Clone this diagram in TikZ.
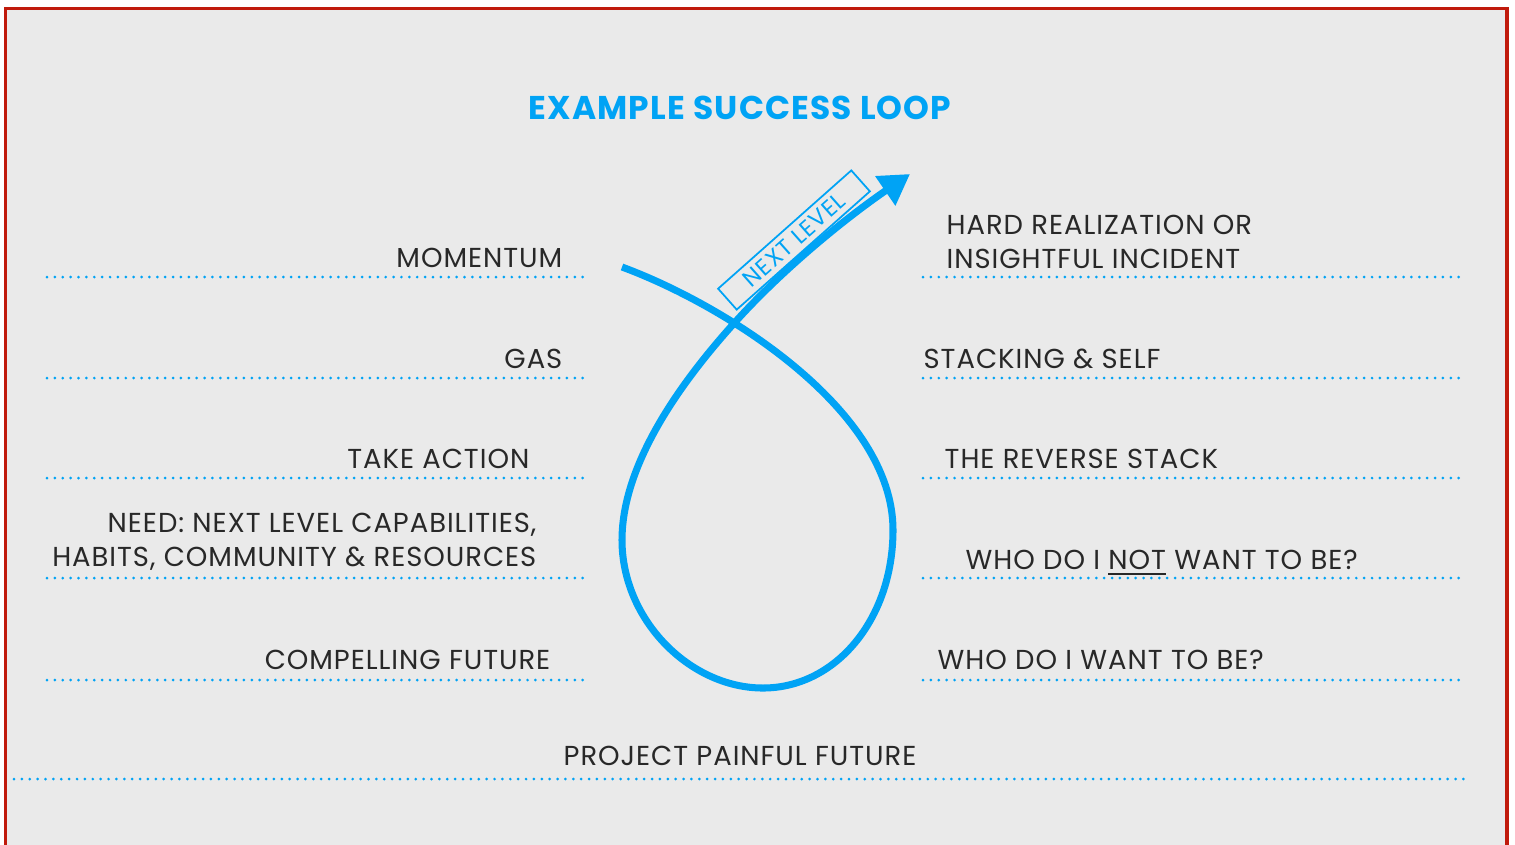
\documentclass[tikz,border=0pt]{standalone}
\usepackage{fontspec}
\setmainfont{Poppins}[LetterSpace=3.5]
\usetikzlibrary{arrows.meta,positioning}

\definecolor{loopblue}{RGB}{0,163,245}
\definecolor{framered}{RGB}{192,26,12}
\definecolor{panelgrey}{RGB}{234,234,234}
\definecolor{textgrey}{RGB}{40,40,40}

\begin{document}
\begin{tikzpicture}[
  x=0.01cm, y=-0.01cm,
  lbl/.style={inner sep=0pt, text=textgrey, font=\fontsize{7.8}{9.4}\selectfont},
  guide/.style={loopblue, line width=0.85pt, line cap=round, dash pattern=on 0pt off 2.24pt},
  loopline/.style={loopblue, line width=2pt},
]

\useasboundingbox (0,0) rectangle (1515,844);
\clip (0,0) rectangle (1515,844);
\draw[framered, line width=0.9pt, fill=panelgrey] (5.5,8.5) rectangle (1507,900);

\node (title) [inner sep=0pt, anchor=base, text=loopblue, font=\fontsize{9.35}{12}\selectfont\bfseries]
  at (740,119) {EXAMPLE SUCCESS LOOP};

% dotted guide lines
\foreach \y in {277,378,478,578,680} {
  \draw[guide] (47,\y) -- (584,\y);
  \draw[guide] (923,\y) -- (1460,\y);
}
\draw[guide] (14,779) -- (1470,779);

% left column
\node (momentum) [lbl, anchor=base east] at (563,267) {MOMENTUM};
\node (gas) [lbl, anchor=base east] at (563,368) {GAS};
\node (action) [lbl, anchor=base east] at (530,468) {TAKE ACTION};
\node (need) [lbl, anchor=base east, align=right] at (537,566)
  {NEED: NEXT LEVEL CAPABILITIES,\\HABITS, COMMUNITY \& RESOURCES};
\node (compelling) [lbl, anchor=base east] at (551,669) {COMPELLING FUTURE};

% right column
\node (realization) [lbl, anchor=base west, align=left] at (946,268)
  {HARD REALIZATION OR\\INSIGHTFUL INCIDENT};
\node (stacking) [lbl, anchor=base west] at (923,368) {STACKING \& SELF};
\node (reverse) [lbl, anchor=base west] at (944,468) {THE REVERSE STACK};
\node (notwant) [lbl, anchor=base west] at (965,569) {WHO DO I \underline{NOT} WANT TO BE?};
\node (want) [lbl, anchor=base west] at (937,669) {WHO DO I WANT TO BE?};

\node (painful) [lbl, anchor=base] at (740,765) {PROJECT PAINFUL FUTURE};

% the loop
\coordinate (start) at (622,267);
\coordinate (cross) at (737,320);
\coordinate (right) at (893,530);
\coordinate (bottom) at (763,688);
\coordinate (left) at (622,540);
\coordinate (tip) at (910,174);

\draw[loopline, -{Triangle[length=0.3cm, width=0.34cm]}]
  (start) .. controls (725,305) and (893,410) .. (right)
          .. controls (893,620) and (835,688) .. (bottom)
          .. controls (690,688) and (622,620) .. (left)
          .. controls (622,460) and (687,375) .. (cross)
          .. controls (787,265) and (850,215) .. (tip);

\node (nextlevel) [draw=loopblue, line width=0.5pt, rotate=41.6, minimum width=1.78cm,
  minimum height=0.28cm, inner sep=0pt, text=loopblue, font=\fontsize{6.6}{8}\selectfont]
  at (794,240) {NEXT LEVEL};

\end{tikzpicture}
\end{document}
